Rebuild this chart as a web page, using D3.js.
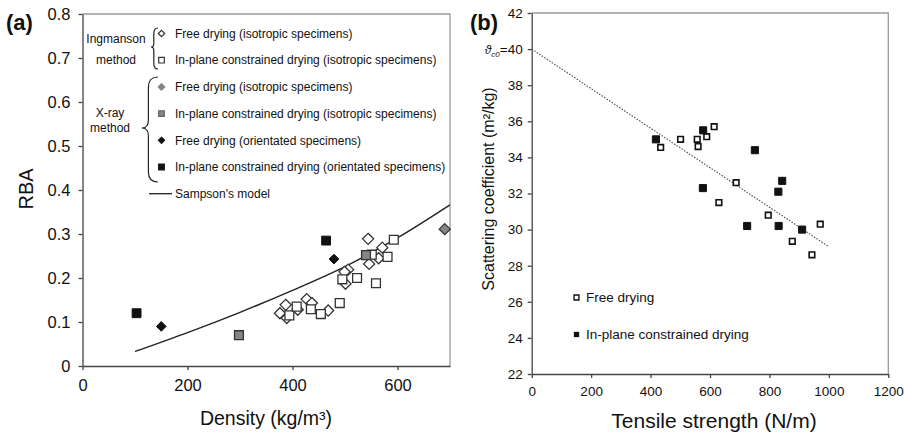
<!DOCTYPE html>
<html>
<head>
<meta charset="utf-8">
<script src="https://cdn.jsdelivr.net/npm/d3@7"></script>
<style>
  html, body { margin: 0; padding: 0; background: #fff; }
  svg { display: block; font-family: Arial, "Liberation Sans", sans-serif; }
</style>
</head>
<body>
<svg id="chart" width="904" height="432"></svg>
<script>
// ---------- Panel (a): RBA vs density ----------
const densityTicks = [0, 200, 400, 600];
const rbaTicks = [0, 0.1, 0.2, 0.3, 0.4, 0.5, 0.6, 0.7, 0.8];
const rbaTickLabels = ["0", "0.1", "0.2", "0.3", "0.4", "0.5", "0.6", "0.7", "0.8"];

// Ingmanson method, free drying (isotropic)
const ingFree = [
  [544, 0.289], [571, 0.269], [564, 0.245], [546, 0.232], [506, 0.219],
  [499, 0.214], [501, 0.187], [376, 0.120], [387, 0.139], [389, 0.109],
  [427, 0.152], [437, 0.143], [468, 0.126], [410, 0.128]
];
// Ingmanson method, in-plane constrained drying (isotropic)
const ingConstrained = [
  [593, 0.287], [551, 0.253], [581, 0.248], [495, 0.197], [523, 0.200],
  [559, 0.188], [394, 0.115], [408, 0.135], [435, 0.129], [454, 0.118],
  [490, 0.143]
];
// X-ray method
const xrayFreeIso = [[690, 0.311]];
const xrayConstrainedIso = [[298, 0.070], [540, 0.252]];
const xrayFreeOri = [[150, 0.090], [479, 0.243]];
const xrayConstrainedOri = [[103, 0.120], [464, 0.285]];
// Sampson's model
const sampson = [
  [100, 0.033], [200, 0.076], [300, 0.122], [400, 0.172],
  [500, 0.226], [600, 0.291], [700, 0.366]
];

// ---------- Panel (b): scattering coefficient vs tensile strength ----------
const strengthTicks = [0, 200, 400, 600, 800, 1000, 1200];
const scatterTicks = [22, 24, 26, 28, 30, 32, 34, 36, 38, 40, 42];

const freeDrying = [
  [434, 34.55], [501, 35.0], [557, 35.0], [560, 34.6], [589, 35.15],
  [614, 35.7], [688, 32.6], [630, 31.5], [796, 30.8], [971, 30.3],
  [877, 29.35], [943, 28.6]
];
const constrainedDrying = [
  [418, 35.0], [577, 35.5], [751, 34.4], [843, 32.7], [830, 32.1],
  [576, 32.3], [725, 30.2], [831, 30.2], [910, 30.0]
];
// linear trend, intercept at zero strength
const trend = [[0, 40.0], [1000, 29.05]];

const svg = d3.select("#chart");
svg.append("rect").attr("width", 904).attr("height", 432).attr("fill", "#fff");

const AXIS = "#444", FRAME = "#9a9a9a";

function frame(g, x, y) {
  const [x0, x1] = x.range(), [y0, y1] = y.range();
  g.append("path")
    .attr("d", `M${x0},${y1}H${x1}V${y0}`)
    .attr("fill", "none").attr("stroke", FRAME).attr("stroke-width", 1.3);
}

function styleAxis(g, size) {
  g.select(".domain").attr("stroke", AXIS).attr("stroke-width", 1.3);
  g.selectAll(".tick line").attr("stroke", AXIS).attr("stroke-width", 1.3);
  g.selectAll(".tick text").attr("fill", "#111").attr("font-size", size)
    .attr("font-family", 'Arial, "Liberation Sans", sans-serif');
}

const diamond = d3.symbol().type(d3.symbolDiamond2);
const square = d3.symbol().type(d3.symbolSquare2);

// ===== Panel (a) =====
{
  const x = d3.scaleLinear().domain([0, 700]).range([82.5, 450]);
  const y = d3.scaleLinear().domain([0, 0.8]).range([366, 14]);
  const g = svg.append("g");
  frame(g, x, y);

  const gx = g.append("g").attr("transform", `translate(0,${y(0)})`)
    .call(d3.axisBottom(x).tickValues(densityTicks).tickSize(4).tickPadding(9).tickSizeOuter(0));
  styleAxis(gx, 16.5);
  const gy = g.append("g").attr("transform", `translate(${x(0)},0)`)
    .call(d3.axisLeft(y).tickValues(rbaTicks).tickFormat((d, i) => rbaTickLabels[i])
      .tickSize(4).tickPadding(8).tickSizeOuter(0));
  styleAxis(gy, 16.5);

  const line = d3.line().x(d => x(d[0])).y(d => y(d[1])).curve(d3.curveMonotoneX);
  g.append("path").datum(sampson).attr("d", line)
    .attr("fill", "none").attr("stroke", "#222").attr("stroke-width", 1.4);

  function pts(data, sym, size, fill, stroke, sw) {
    g.append("g").selectAll("path").data(data).join("path")
      .attr("transform", d => `translate(${x(d[0])},${y(d[1])})`)
      .attr("d", sym.size(size)())
      .attr("fill", fill).attr("stroke", stroke).attr("stroke-width", sw);
  }
  pts(ingFree, diamond, 78, "#fff", "#333", 1.3);
  pts(ingConstrained, square, 100, "#fff", "#333", 1.3);
  pts(xrayFreeIso, diamond, 78, "#858585", "#333", 1.3);
  pts(xrayConstrainedIso, square, 100, "#858585", "#333", 1.3);
  pts(xrayFreeOri, diamond, 60, "#111", "#111", 1);
  pts(xrayConstrainedOri, square, 100, "#111", "#111", 1);

  // legend
  const leg = g.append("g").attr("font-size", 12).attr("fill", "#111");
  const rows = [
    { label: "Free drying (isotropic specimens)", sym: diamond, s: 26, fill: "#fff", stroke: "#333" },
    { label: "In-plane constrained drying (isotropic specimens)", sym: square, s: 40, fill: "#fff", stroke: "#333" },
    { label: "Free drying (isotropic specimens)", sym: diamond, s: 26, fill: "#858585", stroke: "#858585" },
    { label: "In-plane constrained drying (isotropic specimens)", sym: square, s: 40, fill: "#858585", stroke: "#666" },
    { label: "Free drying (orientated specimens)", sym: diamond, s: 24, fill: "#111", stroke: "#111" },
    { label: "In-plane constrained drying (orientated specimens)", sym: square, s: 40, fill: "#111", stroke: "#111" }
  ];
  rows.forEach((r, i) => {
    const cy = 33.5 + i * 26.7;
    leg.append("path").attr("transform", `translate(161.5,${cy})`)
      .attr("d", r.sym.size(r.s)()).attr("fill", r.fill).attr("stroke", r.stroke).attr("stroke-width", 1.2);
    leg.append("text").attr("x", 175).attr("y", cy).attr("dy", "0.35em").text(r.label);
  });
  const cyS = 33.5 + 6 * 26.7;
  leg.append("line").attr("x1", 149).attr("x2", 172).attr("y1", cyS).attr("y2", cyS)
    .attr("stroke", "#222").attr("stroke-width", 1.3);
  leg.append("text").attr("x", 175).attr("y", cyS).attr("dy", "0.35em").text("Sampson's model");

  // curly braces grouping the methods
  function brace(xTip, xEnd, yTop, yMid, yBot) {
    const w = xEnd - xTip, h = w / 2;
    return `M${xEnd},${yTop} Q${xEnd - w * 0.6},${yTop} ${xEnd - w * 0.6},${yTop + h + 2}` +
      ` V${yMid - h} Q${xEnd - w * 0.6},${yMid} ${xTip},${yMid}` +
      ` Q${xEnd - w * 0.6},${yMid} ${xEnd - w * 0.6},${yMid + h}` +
      ` V${yBot - h - 2} Q${xEnd - w * 0.6},${yBot} ${xEnd},${yBot}`;
  }
  leg.append("path").attr("d", brace(151, 158, 28, 47, 69))
    .attr("fill", "none").attr("stroke", "#222").attr("stroke-width", 1.2);
  leg.append("path").attr("d", brace(142, 158, 77, 128, 182))
    .attr("fill", "none").attr("stroke", "#222").attr("stroke-width", 1.2);
  leg.append("text").attr("x", 116).attr("y", 39).attr("dy", "0.35em").attr("text-anchor", "middle").text("Ingmanson");
  leg.append("text").attr("x", 116).attr("y", 60).attr("dy", "0.35em").attr("text-anchor", "middle").text("method");
  leg.append("text").attr("x", 110).attr("y", 113).attr("dy", "0.35em").attr("text-anchor", "middle").text("X-ray");
  leg.append("text").attr("x", 110).attr("y", 128).attr("dy", "0.35em").attr("text-anchor", "middle").text("method");

  // titles
  g.append("text").attr("x", 266).attr("y", 425).attr("text-anchor", "middle")
    .attr("font-size", 19.5).attr("fill", "#111")
    .text("Density (kg/m³)");
  g.append("text").attr("transform", "translate(33,189) rotate(-90)").attr("text-anchor", "middle")
    .attr("font-size", 20).attr("fill", "#111").text("RBA");
  g.append("text").attr("x", 6).attr("y", 30).attr("font-size", 22).attr("font-weight", "bold")
    .attr("fill", "#111").text("(a)");
}

// ===== Panel (b) =====
{
  const x = d3.scaleLinear().domain([0, 1200]).range([531.7, 888.3]);
  const y = d3.scaleLinear().domain([22, 42]).range([374, 13]);
  const g = svg.append("g");
  frame(g, x, y);

  const gx = g.append("g").attr("transform", `translate(0,${y(22)})`)
    .call(d3.axisBottom(x).tickValues(strengthTicks).tickFormat(d3.format("d"))
      .tickSize(4).tickPadding(8).tickSizeOuter(0));
  styleAxis(gx, 13.5);
  const gy = g.append("g").attr("transform", `translate(${x(0)},0)`)
    .call(d3.axisLeft(y).tickValues(scatterTicks).tickSize(4).tickPadding(5).tickSizeOuter(0));
  styleAxis(gy, 13.5);

  // intercept label on the 40 tick
  gy.selectAll(".tick").filter(d => d === 40).select("text")
    .text(null)
    .call(t => {
      t.append("tspan").attr("font-style", "italic").attr("font-size", 12).text("ϑ");
      t.append("tspan").attr("font-style", "italic").attr("font-size", 8).attr("dy", "3").text("c0");
      t.append("tspan").attr("font-size", 13.5).attr("dy", "-3").text("=40");
    });

  const line = d3.line().x(d => x(d[0])).y(d => y(d[1]));
  g.append("path").datum(trend).attr("d", line)
    .attr("fill", "none").attr("stroke", "#555").attr("stroke-width", 1.2)
    .attr("stroke-dasharray", "1.5,1.5");

  g.append("g").selectAll("path").data(freeDrying).join("path")
    .attr("transform", d => `translate(${x(d[0])},${y(d[1])})`)
    .attr("d", square.size(40)())
    .attr("fill", "#fff").attr("stroke", "#111").attr("stroke-width", 1.6);
  g.append("g").selectAll("path").data(constrainedDrying).join("path")
    .attr("transform", d => `translate(${x(d[0])},${y(d[1])})`)
    .attr("d", square.size(64)())
    .attr("fill", "#111").attr("stroke", "#111").attr("stroke-width", 1);

  const leg = g.append("g").attr("font-size", 13.5).attr("fill", "#111");
  leg.append("path").attr("transform", "translate(576.5,297.5)").attr("d", square.size(30)())
    .attr("fill", "#fff").attr("stroke", "#111").attr("stroke-width", 1.4);
  leg.append("text").attr("x", 586).attr("y", 297.5).attr("dy", "0.35em").text("Free drying");
  leg.append("path").attr("transform", "translate(576.5,334.5)").attr("d", square.size(36)())
    .attr("fill", "#111");
  leg.append("text").attr("x", 586).attr("y", 334.5).attr("dy", "0.35em").text("In-plane constrained drying");

  g.append("text").attr("x", 714).attr("y", 428).attr("text-anchor", "middle")
    .attr("font-size", 21).attr("fill", "#111").text("Tensile strength (N/m)");
  g.append("text").attr("transform", "translate(494,189) rotate(-90)").attr("text-anchor", "middle")
    .attr("font-size", 16).attr("fill", "#111").text("Scattering coefficient (m²/kg)");
  g.append("text").attr("x", 470).attr("y", 30).attr("font-size", 22).attr("font-weight", "bold")
    .attr("fill", "#111").text("(b)");
}
</script>
</body>
</html>
